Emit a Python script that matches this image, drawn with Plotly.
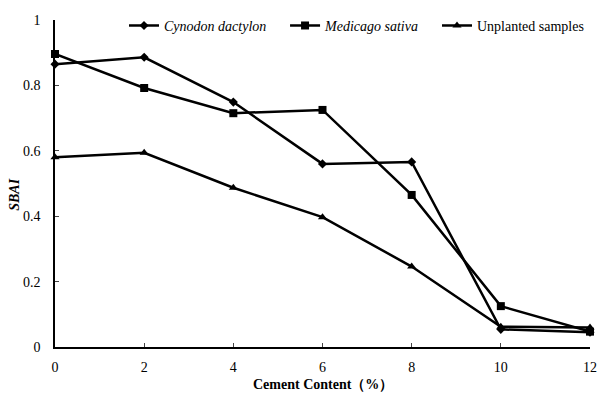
import plotly.graph_objects as go

cement = [0, 2, 4, 6, 8, 10, 12]
cynodon = [0.865, 0.886, 0.749, 0.560, 0.566, 0.054, 0.045]
medicago = [0.896, 0.792, 0.715, 0.725, 0.465, 0.125, 0.047]
unplanted = [0.580, 0.594, 0.487, 0.397, 0.246, 0.062, 0.060]

names = ["<i>Cynodon dactylon</i>", "<i>Medicago sativa</i>", "Unplanted samples"]
series = [cynodon, medicago, unplanted]
symbols = ["diamond", "square", "triangle-up"]
sizes = [7, 8, 8]
legend_ids = ["legend", "legend2", "legend3"]
legend_x = [0.129, 0.430, 0.714]

FONT = "Liberation Serif, Liberation Sans Narrow, Liberation Sans, sans-serif"

fig = go.Figure()
for n, s, sym, sz, lg in zip(names, series, symbols, sizes, legend_ids):
    fig.add_trace(go.Scatter(
        x=cement, y=s, name=n, mode="lines+markers",
        line=dict(color="black", width=2.5),
        marker=dict(symbol=sym, size=sz, color="black"),
        cliponaxis=False, legend=lg,
    ))

leg_common = dict(orientation="h", y=0.982, xanchor="left", yanchor="middle",
                  font=dict(family=FONT, size=14), bgcolor="rgba(0,0,0,0)",
                  itemwidth=30)

fig.update_layout(
    width=604, height=396,
    margin=dict(l=55, r=7, t=20, b=49),
    paper_bgcolor="white", plot_bgcolor="white",
    font=dict(family=FONT, size=14, color="black"),
    showlegend=True,
    legend=dict(x=legend_x[0], **leg_common),
    legend2=dict(x=legend_x[1], **leg_common),
    legend3=dict(x=legend_x[2], **leg_common),
    xaxis=dict(range=[0, 12], tickvals=cement, ticks="inside", ticklen=4,
               showline=True, linecolor="black", linewidth=1.5, showgrid=False,
               zeroline=False, tickfont=dict(family=FONT, size=14),
               ticklabelstandoff=6),
    yaxis=dict(range=[0, 1], tickvals=[0, 0.2, 0.4, 0.6, 0.8, 1],
               ticktext=["0", "0.2", "0.4", "0.6", "0.8", "1"],
               ticks="inside", ticklen=4,
               showline=True, linecolor="black", linewidth=1.5, showgrid=False,
               zeroline=False, tickfont=dict(family=FONT, size=14),
               ticklabelstandoff=10),
    annotations=[
        dict(text="<b>Cement Content（%）</b>", xref="paper", yref="paper",
             x=0.5, y=-0.116, xanchor="center", yanchor="middle", showarrow=False,
             font=dict(family=FONT, size=14)),
        dict(text="<b><i>SBAI</i></b>", xref="paper", yref="paper",
             x=-0.075, y=0.465, xanchor="center", yanchor="middle", showarrow=False,
             textangle=-90, font=dict(family=FONT, size=14)),
    ],
)

fig.write_html("out.html")
